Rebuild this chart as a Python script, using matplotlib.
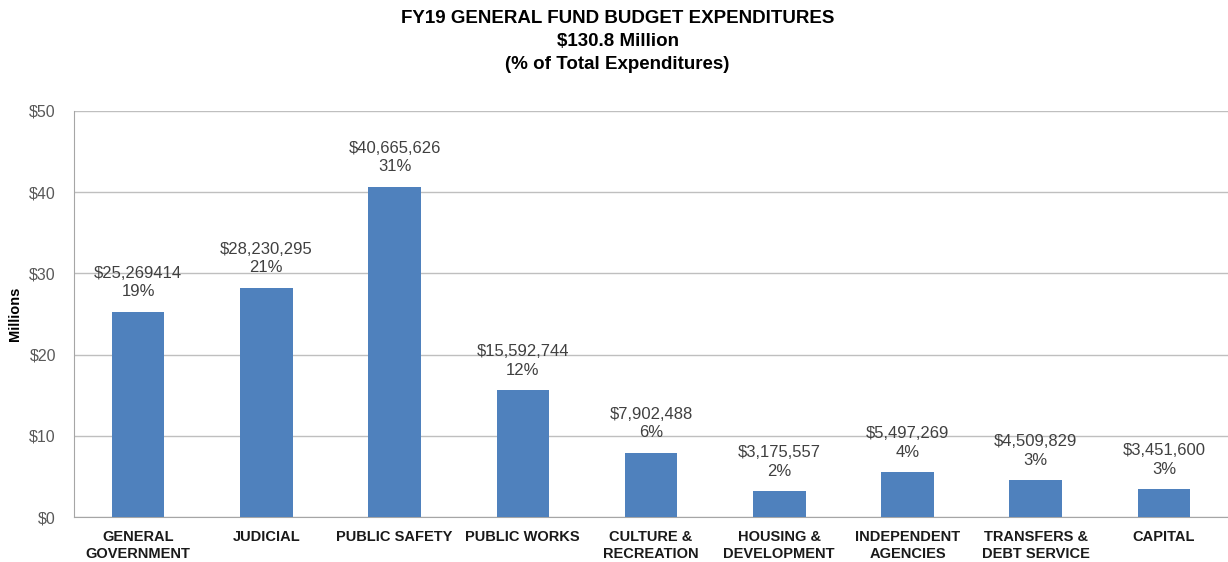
import matplotlib
matplotlib.use("Agg")
import matplotlib.pyplot as plt

plt.rcParams['font.family'] = ['Liberation Sans', 'DejaVu Sans']

categories = ["GENERAL\nGOVERNMENT", "JUDICIAL", "PUBLIC SAFETY", "PUBLIC WORKS",
              "CULTURE &\nRECREATION", "HOUSING &\nDEVELOPMENT", "INDEPENDENT\nAGENCIES",
              "TRANSFERS &\nDEBT SERVICE", "CAPITAL"]
amounts = [25269414, 28230295, 40665626, 15592744, 7902488,
           3175557, 5497269, 4509829, 3451600]
amount_labels = ["$25,269414", "$28,230,295", "$40,665,626", "$15,592,744", "$7,902,488",
                 "$3,175,557", "$5,497,269", "$4,509,829", "$3,451,600"]
percents = [19, 21, 31, 12, 6, 2, 4, 3, 3]
yticks = [0, 10, 20, 30, 40, 50]

millions = [a / 1e6 for a in amounts]
x = range(len(categories))

fig = plt.figure(figsize=(12.28, 5.62), dpi=100)
ax = fig.add_axes([0.0603, 0.080, 0.9397, 0.7225])

ax.bar(x, millions, width=0.41, color="#4F81BD", zorder=3)

for i, v in enumerate(millions):
    ax.annotate(f"{amount_labels[i]}\n{percents[i]}%", (i, v), xytext=(0, 9),
                textcoords="offset points", ha="center", va="bottom",
                fontsize=12, color="#404040", linespacing=1.3)

ax.set_xlim(-0.5, 8.5)
ax.set_ylim(0, 50)
ax.set_yticks(yticks)
ax.set_yticklabels([f"${t}" for t in yticks], fontsize=11.5, color="#595959")
ax.set_xticks(list(x))
ax.set_xticklabels(categories, fontsize=10.5, fontweight="bold", color="#1a1a1a",
                   linespacing=1.3, va="top")
ax.tick_params(axis="both", length=0)
ax.tick_params(axis="y", pad=13)
ax.tick_params(axis="x", pad=9)

ax.grid(axis="y", color="#BFBFBF", linewidth=1, zorder=0)
for side in ["top", "right"]:
    ax.spines[side].set_visible(False)
ax.spines["left"].set_color("#A6A6A6")
ax.spines["bottom"].set_color("#A6A6A6")

ax.set_ylabel("Millions", fontsize=10.5, fontweight="bold", labelpad=5)

fig.text(0.503, 0.982, "FY19 GENERAL FUND BUDGET EXPENDITURES\n$130.8 Million\n(% of Total Expenditures)",
         ha="center", va="top", fontsize=13.5, fontweight="bold", linespacing=1.45)

fig.savefig("out.png", dpi=100)
